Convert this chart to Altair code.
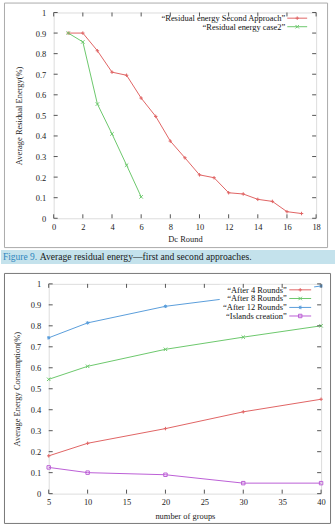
import altair as alt
import pandas as pd

FONT = "Liberation Serif"

# ---------------- data: top chart ----------------
rounds_second = [1, 2, 3, 4, 5, 6, 7, 8, 9, 10, 11, 12, 13, 14, 15, 16, 17]
energy_second = [0.9, 0.9, 0.814, 0.71, 0.695, 0.584, 0.495, 0.375, 0.294, 0.211,
                 0.197, 0.124, 0.118, 0.092, 0.082, 0.032, 0.023]
rounds_case2 = [1, 2, 3, 4, 5, 6]
energy_case2 = [0.9, 0.857, 0.555, 0.41, 0.258, 0.104]
top_x_ticks = [0, 2, 4, 6, 8, 10, 12, 14, 16, 18]
y_ticks = [0, 0.1, 0.2, 0.3, 0.4, 0.5, 0.6, 0.7, 0.8, 0.9, 1]
top_series = ["“Residual energy Second Approach”", "“Residual energy case2”"]

# ---------------- data: bottom chart ----------------
groups = [5, 10, 20, 30, 40]
after4 = [0.18, 0.24, 0.31, 0.39, 0.45]
after8 = [0.545, 0.607, 0.688, 0.746, 0.80]
after12 = [0.743, 0.814, 0.893, 0.94, 0.99]
islands = [0.125, 0.1, 0.09, 0.05, 0.05]
bottom_x_ticks = [5, 10, 15, 20, 25, 30, 35, 40]
bottom_series = ["“After 4 Rounds”", "“After 8 Rounds”", "“After 12 Rounds”", "“Islands creation”"]

caption_label = "Figure 9."
caption_text = "Average residual energy—first and second approaches."

# ---------------- styles ----------------
RED, GREEN, BLUE, PURPLE = "#e06464", "#6cc86c", "#5a9ddb", "#bb5fd6"
PLUS = "M-1,0L1,0M0,-1L0,1"
CROSS = "M-1,-1L1,1M-1,1L1,-1"
STAR = "M-1,0L1,0M0,-1L0,1M-0.75,-0.75L0.75,0.75M-0.75,0.75L0.75,-0.75"
SQUARE = "M-1,-1L1,-1L1,1L-1,1Z"
BORDER = "#555555"
TXT = "#222222"
FS = 8.5
MS = 12

one = pd.DataFrame({"a": [0]})


def axis_x(values, title, title_y):
    return alt.Axis(values=values, title=title, tickSize=0, domain=False, grid=False,
                    labelPadding=4, labelFont=FONT, labelFontSize=FS, labelColor=TXT,
                    labelFlush=False, labelOverlap=False,
                    titleFont=FONT, titleFontSize=FS, titleFontWeight="normal", titleColor=TXT,
                    titleY=title_y, titleBaseline="middle")


def axis_y(title, title_x, title_y):
    return alt.Axis(values=y_ticks, title=title, tickSize=0, domain=False, grid=False,
                    labelPadding=8, labelFont=FONT, labelFontSize=FS, labelColor=TXT,
                    labelFlush=False, labelOverlap=False,
                    labelExpr="format(datum.value, '~g')",
                    titleFont=FONT, titleFontSize=FS, titleFontWeight="normal", titleColor=TXT,
                    titleX=title_x, titleY=title_y, titleAngle=270,
                    titleAlign="center", titleBaseline="middle")


def inward_ticks(xsc, ysc, xax, yax, xvals, W, H):
    xs = pd.DataFrame({"x": xvals})
    ys = pd.DataFrame({"y": y_ticks})
    layers = []
    for y0, y1 in [(H, H - 4), (0, 4)]:
        layers.append(alt.Chart(xs).mark_rule(color=BORDER, strokeWidth=1).encode(
            x=alt.X("x:Q", scale=xsc, axis=xax), y=alt.value(y0), y2=alt.value(y1)))
    for x0, x1 in [(0, 4), (W, W - 4)]:
        layers.append(alt.Chart(ys).mark_rule(color=BORDER, strokeWidth=1).encode(
            y=alt.Y("y:Q", scale=ysc, axis=yax), x=alt.value(x0), x2=alt.value(x1)))
    return layers


def legend_rows(names, colors, shapes, text_x, line_x0, line_x1, ys):
    layers = []
    for name, col, shp, yy in zip(names, colors, shapes, ys):
        d = pd.DataFrame({"t": [name]})
        layers.append(alt.Chart(d).mark_text(align="right", baseline="middle", font=FONT,
                                             fontSize=FS, color="#111111").encode(
            text="t:N", x=alt.value(text_x), y=alt.value(yy)))
        layers.append(alt.Chart(d).mark_rule(color=col, strokeWidth=1).encode(
            x=alt.value(line_x0), x2=alt.value(line_x1), y=alt.value(yy)))
        layers.append(alt.Chart(d).mark_point(shape=shp, filled=False, size=MS, strokeWidth=1,
                                              color=col, opacity=1).encode(
            x=alt.value((line_x0 + line_x1) / 2), y=alt.value(yy)))
    return layers


# ---------------- top chart ----------------
TW, TH = 264, 207
top_df = pd.concat([
    pd.DataFrame({"x": rounds_second, "y": energy_second, "s": top_series[0]}),
    pd.DataFrame({"x": rounds_case2, "y": energy_case2, "s": top_series[1]}),
])
tx = alt.Scale(domain=[0, 18], nice=False, zero=False)
ty = alt.Scale(domain=[0, 1], nice=False)
tax_x = axis_x(top_x_ticks, "Dc Round", 20)
tax_y = axis_y("Average Residual Energy(%)", -35, TH / 2)
tcol = alt.Color("s:N", scale=alt.Scale(domain=top_series, range=[RED, GREEN]), legend=None)
tshape = alt.Shape("s:N", scale=alt.Scale(domain=top_series, range=[PLUS, CROSS]), legend=None)

top_band = alt.Chart(one).mark_rect(fill="#c4e2ec").encode(
    x=alt.value(-53), x2=alt.value(283), y=alt.value(239), y2=alt.value(253))
top_frame = alt.Chart(one).mark_rect(filled=False, stroke="#aaaaaa", strokeWidth=1).encode(
    x=alt.value(-49.5), x2=alt.value(275.5), y=alt.value(-9.5), y2=alt.value(236.5))
cap1 = alt.Chart(pd.DataFrame({"t": [caption_label]})).mark_text(
    align="left", baseline="middle", font=FONT, fontSize=9.5, color="#2f86bd").encode(
    text="t:N", x=alt.value(-51), y=alt.value(246))
cap2 = alt.Chart(pd.DataFrame({"t": [caption_text]})).mark_text(
    align="left", baseline="middle", font=FONT, fontSize=9.7, color="#1a1a1a").encode(
    text="t:N", x=alt.value(-14), y=alt.value(246))

top_lines = alt.Chart(top_df).mark_line(strokeWidth=1).encode(
    x=alt.X("x:Q", scale=tx, axis=tax_x),
    y=alt.Y("y:Q", scale=ty, axis=tax_y),
    color=tcol, detail="s:N")
top_pts = alt.Chart(top_df).mark_point(filled=False, size=MS, strokeWidth=1, opacity=1).encode(
    x=alt.X("x:Q", scale=tx, axis=tax_x), y=alt.Y("y:Q", scale=ty, axis=tax_y),
    color=tcol, shape=tshape)

top = alt.layer(
    top_lines, top_pts, top_band, top_frame, cap1, cap2,
    *inward_ticks(tx, ty, tax_x, tax_y, top_x_ticks, TW, TH),
    *legend_rows(top_series, [RED, GREEN], [PLUS, CROSS], 233, 235, 255, [5.7, 14.3]),
).properties(width=TW, height=TH)

# ---------------- bottom chart ----------------
BW, BH = 274, 211
bot_df = pd.concat([
    pd.DataFrame({"x": groups, "y": vals, "s": name})
    for vals, name in zip([after4, after8, after12, islands], bottom_series)
])
bx = alt.Scale(domain=[5, 40], nice=False, zero=False)
by = alt.Scale(domain=[0, 1], nice=False)
bax_x = axis_x(bottom_x_ticks, "number of groups", 22)
bax_y = axis_y("Average Energy Consumption(%)", -32, BH / 2)
bcol = alt.Color("s:N", scale=alt.Scale(domain=bottom_series, range=[RED, GREEN, BLUE, PURPLE]), legend=None)
bshape = alt.Shape("s:N", scale=alt.Scale(domain=bottom_series, range=[PLUS, CROSS, STAR, SQUARE]), legend=None)

bot_frame = alt.Chart(one).mark_rect(filled=False, stroke="#777777", strokeWidth=1).encode(
    x=alt.value(-44.5), x2=alt.value(283.5), y=alt.value(-10.5), y2=alt.value(241))
bot_lines = alt.Chart(bot_df).mark_line(strokeWidth=1).encode(
    x=alt.X("x:Q", scale=bx, axis=bax_x),
    y=alt.Y("y:Q", scale=by, axis=bax_y),
    color=bcol, detail="s:N")
bot_pts = alt.Chart(bot_df).mark_point(filled=False, size=MS, strokeWidth=1, opacity=1).encode(
    x=alt.X("x:Q", scale=bx, axis=bax_x), y=alt.Y("y:Q", scale=by, axis=bax_y),
    color=bcol, shape=bshape)
bot_legend_bg = alt.Chart(one).mark_rect(fill="white").encode(
    x=alt.value(172), x2=alt.value(267), y=alt.value(1), y2=alt.value(37))

bottom = alt.layer(
    bot_lines, bot_pts, bot_frame, bot_legend_bg,
    *inward_ticks(bx, by, bax_x, bax_y, bottom_x_ticks, BW, BH),
    *legend_rows(bottom_series, [RED, GREEN, BLUE, PURPLE], [PLUS, CROSS, STAR, SQUARE],
                 239.5, 242, 264, [6, 14.7, 23.7, 32.3]),
).properties(width=BW, height=BH)

chart = alt.vconcat(top, bottom, spacing=66, bounds="flush", center=True).resolve_scale(
    color="independent", shape="independent"
).properties(padding=0).configure_view(stroke=BORDER, strokeWidth=1).configure(font=FONT)

chart.save("out.html", embed_options={"renderer": "svg", "actions": False})
